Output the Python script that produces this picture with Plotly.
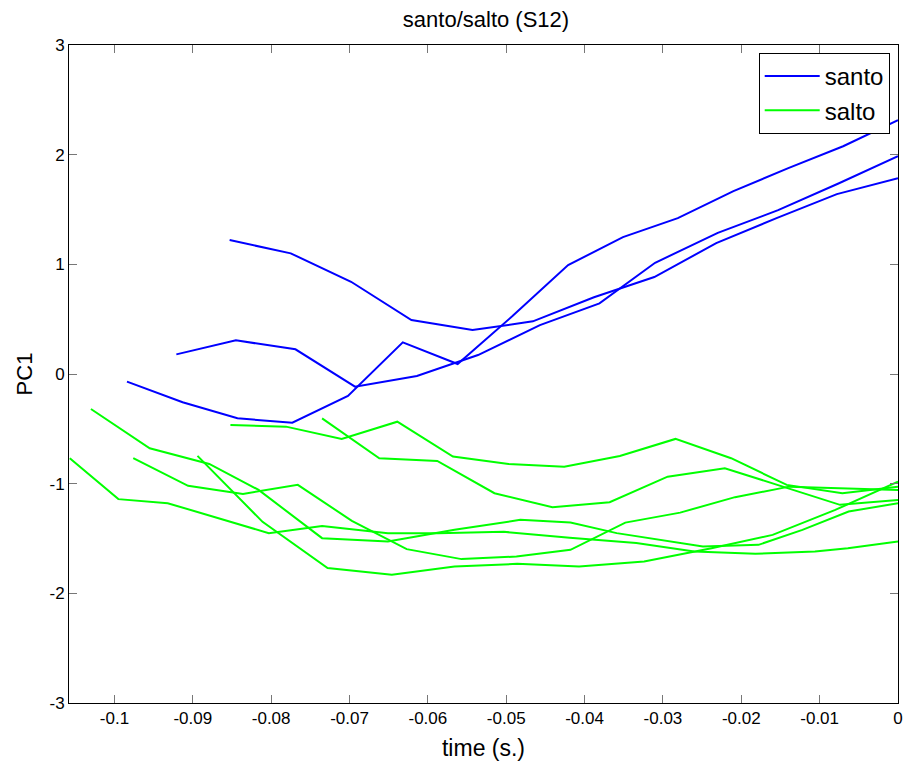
import plotly.graph_objects as go

# PC1 trajectories per token, time relative to the end of the interval (s)
santo_t = [
    [-0.0853, -0.0775, -0.0698, -0.0621, -0.0543, -0.0466, -0.0388, -0.0311, -0.0232, -0.0155, -0.0078, 0.0],
    [-0.0921, -0.0845, -0.0769, -0.0693, -0.0614, -0.0536, -0.0457, -0.0381, -0.0310, -0.0230, -0.0153, -0.0076, 0.0],
    [-0.0984, -0.0913, -0.0843, -0.0773, -0.0702, -0.0632, -0.0562, -0.0492, -0.0421, -0.0351, -0.0281, -0.0210, -0.0140, -0.0070, 0.0],
]
santo_pc1 = [
    [1.221, 1.100, 0.841, 0.492, 0.401, 0.480, 0.700, 0.884, 1.193, 1.421, 1.640, 1.786],
    [0.179, 0.307, 0.225, -0.116, -0.018, 0.173, 0.446, 0.644, 1.014, 1.287, 1.494, 1.737, 1.986],
    [-0.070, -0.258, -0.404, -0.444, -0.200, 0.289, 0.091, 0.528, 0.993, 1.248, 1.421, 1.667, 1.877, 2.077, 2.314],
]

salto_t = [
    [-0.1057, -0.0995, -0.0932, -0.0875, -0.0803, -0.0735, -0.0651, -0.0587, -0.0503, -0.0419, -0.0334, -0.0260, -0.0182, -0.0106, -0.0064, 0.0],
    [-0.1030, -0.0955, -0.0879, -0.0816, -0.0735, -0.0651, -0.0566, -0.0482, -0.0418, -0.0359, -0.0249, -0.0178, -0.0122, -0.0063, 0.0],
    [-0.0976, -0.0906, -0.0836, -0.0766, -0.0697, -0.0627, -0.0557, -0.0487, -0.0418, -0.0348, -0.0278, -0.0208, -0.0139, -0.0069, 0.0],
    [-0.0894, -0.0811, -0.0728, -0.0646, -0.0566, -0.0486, -0.0407, -0.0324, -0.0238, -0.0160, -0.0080, 0.0],
    [-0.0852, -0.0781, -0.0710, -0.0639, -0.0568, -0.0497, -0.0426, -0.0355, -0.0284, -0.0213, -0.0142, -0.0071, 0.0],
    [-0.0735, -0.0662, -0.0588, -0.0515, -0.0441, -0.0368, -0.0294, -0.0221, -0.0147, -0.0074, 0.0],
]
salto_pc1 = [
    [-0.768, -1.141, -1.178, -1.300, -1.451, -1.385, -1.451, -1.451, -1.439, -1.494, -1.540, -1.619, -1.640, -1.619, -1.588, -1.528],
    [-0.319, -0.677, -0.820, -1.057, -1.497, -1.528, -1.421, -1.330, -1.355, -1.451, -1.573, -1.558, -1.421, -1.254, -1.178],
    [-0.768, -1.020, -1.093, -1.011, -1.339, -1.597, -1.688, -1.664, -1.603, -1.355, -1.264, -1.123, -1.027, -1.041, -1.057],
    [-0.747, -1.348, -1.770, -1.831, -1.756, -1.731, -1.756, -1.710, -1.588, -1.467, -1.239, -0.981],
    [-0.465, -0.480, -0.592, -0.435, -0.753, -0.820, -0.845, -0.747, -0.592, -0.768, -1.011, -1.087, -1.027],
    [-0.404, -0.768, -0.793, -1.087, -1.214, -1.169, -0.936, -0.859, -1.027, -1.193, -1.148],
]

x_ticks = [-0.1, -0.09, -0.08, -0.07, -0.06, -0.05, -0.04, -0.03, -0.02, -0.01, 0]
x_tick_text = ["-0.1", "-0.09", "-0.08", "-0.07", "-0.06", "-0.05", "-0.04", "-0.03", "-0.02", "-0.01", "0"]
y_ticks = [-3, -2, -1, 0, 1, 2, 3]
y_tick_text = ["-3", "-2", "-1", "0", "1", "2", "3"]

FONT = "Helvetica, 'Liberation Sans', Arial, sans-serif"

fig = go.Figure()

groups = [("santo", santo_t, santo_pc1, "#0000ff"),
          ("salto", salto_t, salto_pc1, "#00ff00")]
for name, ts, ys, color in groups:
    for i, (t, y) in enumerate(zip(ts, ys)):
        fig.add_trace(go.Scatter(
            x=t, y=y, mode="lines", name=name, legendgroup=name,
            showlegend=(i == 0),
            line=dict(color=color, width=2),
        ))

axis_common = dict(
    showline=True, linecolor="#000000", linewidth=1, mirror="ticks",
    ticks="inside", ticklen=8, tickcolor="#777777", tickwidth=1,
    showgrid=False, zeroline=False,
    tickfont=dict(family=FONT, size=17, color="#000000"),
)

fig.update_layout(
    width=909, height=769,
    margin=dict(l=69, r=6, t=45, b=66),
    paper_bgcolor="#ffffff", plot_bgcolor="#ffffff",
    font=dict(family=FONT, color="#000000"),
    title=dict(text="santo/salto (S12)", x=(69 + 903) / 2 / 909, xanchor="center",
               y=1 - 19 / 769, yanchor="middle",
               font=dict(family=FONT, size=22, color="#000000")),
    xaxis=dict(range=[-0.1058, 0], tickvals=x_ticks, ticktext=x_tick_text,
               title=dict(text="time (s.)", font=dict(family=FONT, size=23), standoff=12),
               **axis_common),
    yaxis=dict(range=[-3, 3], tickvals=y_ticks, ticktext=y_tick_text,
               title=dict(text="PC1", font=dict(family=FONT, size=22), standoff=10),
               **axis_common),
    legend=dict(x=0.990, y=0.988, xanchor="right", yanchor="top",
                bgcolor="#ffffff", bordercolor="#000000", borderwidth=1,
                font=dict(family=FONT, size=24, color="#000000"),
                itemwidth=55, tracegroupgap=0),
    showlegend=True,
)

fig.write_html("out.html")
